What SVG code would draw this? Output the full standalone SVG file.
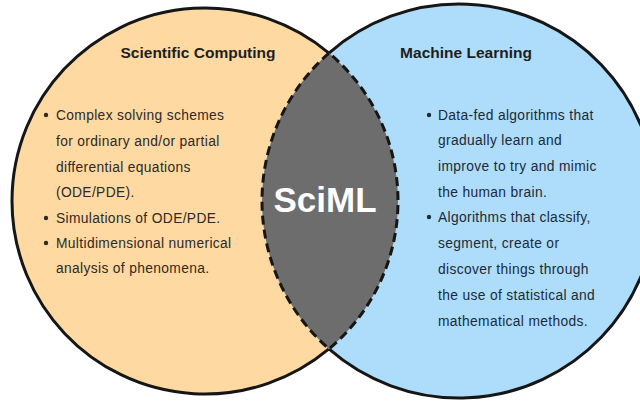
<svg xmlns="http://www.w3.org/2000/svg" width="640" height="401" viewBox="0 0 640 401">
<style>
.title{font-family:"Liberation Sans",Arial,sans-serif;font-weight:bold;font-size:15.5px;fill:#1e1e1e;text-anchor:middle}
.body{font-family:"Liberation Sans",Arial,sans-serif;font-size:13.8px;letter-spacing:0.35px}
.lt{fill:#2e2a25}
.rt{fill:#1c2a38}
.outer{fill:none;stroke:#161616;stroke-width:3}
.big{font-family:"Liberation Sans",Arial,sans-serif;font-weight:bold;font-size:35px;fill:#ffffff;text-anchor:middle}
</style>
<rect width="640" height="401" fill="#ffffff"/>
<g id="scientific-computing">
<circle cx="205" cy="201" r="193" fill="#FED9A2"/>
<path class="outer" d="M 328.93 53.05 A 193 193 0 1 0 328.93 348.95"/>
</g>
<g id="machine-learning">
<circle cx="459" cy="201" r="197" fill="#ADDDFB"/>
<path class="outer" d="M 328.93 53.05 A 197 197 0 1 1 328.93 348.95"/>
</g>
<g id="sciml">
<path d="M 328.93 53.05 A 197 197 0 0 0 328.93 348.95 A 193 193 0 0 0 328.93 53.05 Z" fill="#6D6D6D" stroke="#161616" stroke-width="3" stroke-dasharray="9 5"/>
<text class="big" x="325" y="212">SciML</text>
</g>
<g id="sc-text">
<text class="title" x="198" y="58">Scientific Computing</text>
<g class="body lt">
<circle cx="46" cy="115" r="2.2"/>
<text x="56" y="120">Complex solving schemes</text>
<text x="56" y="146">for ordinary and/or partial</text>
<text x="56" y="172">differential equations</text>
<text x="56" y="197">(ODE/PDE).</text>
<circle cx="46" cy="218" r="2.2"/>
<text x="56" y="223">Simulations of ODE/PDE.</text>
<circle cx="46" cy="243" r="2.2"/>
<text x="56" y="248">Multidimensional numerical</text>
<text x="56" y="273">analysis of phenomena.</text>
</g>
</g>
<g id="ml-text">
<text class="title" x="466" y="58">Machine Learning</text>
<g class="body rt">
<circle cx="429" cy="115" r="2.2"/>
<text x="438" y="120">Data-fed algorithms that</text>
<text x="438" y="145">gradually learn and</text>
<text x="438" y="171">improve to try and mimic</text>
<text x="438" y="197">the human brain.</text>
<circle cx="429" cy="217" r="2.2"/>
<text x="438" y="222">Algorithms that classify,</text>
<text x="438" y="248">segment, create or</text>
<text x="438" y="274">discover things through</text>
<text x="438" y="300">the use of statistical and</text>
<text x="438" y="326">mathematical methods.</text>
</g>
</g>
</svg>
